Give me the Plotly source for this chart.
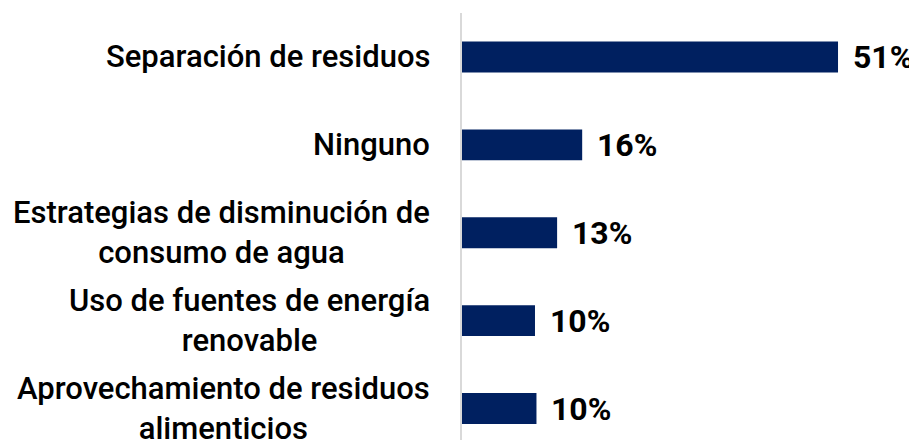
import plotly.graph_objects as go

categories = [
    "Separación de residuos",
    "Ninguno",
    "Estrategias de disminución de<br>consumo de agua",
    "Uso de fuentes de energía<br>renovable",
    "Aprovechamiento de residuos<br>alimenticios",
]
values = [51.0, 16.3, 12.9, 9.9, 10.1]
labels = ["51%", "16%", "13%", "10%", "10%"]

BAR_COLOR = "#002060"
FONT = "Roboto"

# the page body adds an 8px margin; compensate so the picture lines up
OFF = 8
W, H = 917 - OFF, 448 - 2 * OFF
TOP = 12.5 - OFF
PX_PER_CAT = 88.0

fig = go.Figure()
fig.add_trace(go.Bar(
    x=values,
    y=list(range(len(categories))),
    orientation="h",
    marker=dict(color=BAR_COLOR, line=dict(width=0)),
    width=0.352,
    hoverinfo="skip",
))

annotations = []
for i, (cat, v, lab) in enumerate(zip(categories, values, labels)):
    annotations.append(dict(
        x=0, xref="paper", y=i, yref="y",
        text=cat, showarrow=False, xanchor="right", yanchor="middle",
        align="center", xshift=-30,
        font=dict(family=FONT, size=31, color="#000000", weight=500),
    ))
    annotations.append(dict(
        x=v, xref="x", y=i, yref="y",
        text="<b>" + lab + "</b>", showarrow=False, xanchor="left", yanchor="middle",
        xshift=13,
        font=dict(family=FONT, size=32, color="#000000"),
    ))

plot_w = W - (462 - OFF)
fig.update_layout(
    width=W, height=H,
    margin=dict(l=462 - OFF, r=0, t=TOP, b=0),
    paper_bgcolor="white", plot_bgcolor="white",
    showlegend=False,
    annotations=annotations,
    xaxis=dict(range=[0, plot_w / 7.373], visible=False, fixedrange=True),
    yaxis=dict(
        range=[-0.5 + (H - TOP) / PX_PER_CAT, -0.5], showticklabels=False,
        showgrid=False, zeroline=False,
        showline=True, linecolor="#d9d9d9", linewidth=2, ticks="",
    ),
)

fig.write_html("out.html")
